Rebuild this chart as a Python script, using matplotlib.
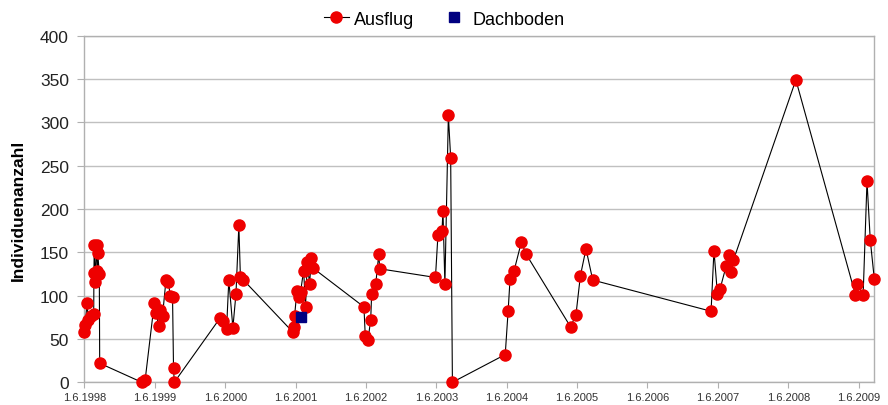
import matplotlib
matplotlib.use("Agg")
import matplotlib.pyplot as plt
import pandas as pd

plt.rcParams["font.family"] = ["Liberation Sans", "DejaVu Sans"]

# Ausflug counts (date, individuals)
ausflug_dates = [
    "1998-06-01", "1998-06-06", "1998-06-15", "1998-06-22", "1998-07-06", "1998-07-20",
    "1998-07-21", "1998-07-23", "1998-07-27", "1998-08-04", "1998-08-08", "1998-08-10",
    "1998-08-18", "1998-08-20",
    "1999-03-27", "1999-04-13", "1999-05-30", "1999-06-08", "1999-06-22", "1999-06-30",
    "1999-07-12", "1999-07-30", "1999-08-11", "1999-08-21", "1999-09-02", "1999-09-07",
    "1999-09-11",
    "2000-05-05", "2000-05-20", "2000-06-08", "2000-06-20", "2000-07-11", "2000-07-27",
    "2000-08-11", "2000-08-19", "2000-09-04",
    "2001-05-18", "2001-05-22", "2001-05-27", "2001-06-08", "2001-06-18", "2001-06-27",
    "2001-07-13", "2001-07-23", "2001-08-01", "2001-08-13", "2001-08-22", "2001-08-30",
    "2002-05-22", "2002-05-29", "2002-06-12", "2002-06-26", "2002-07-01", "2002-07-22",
    "2002-08-07", "2002-08-12",
    "2003-05-28", "2003-06-10", "2003-07-01", "2003-07-06", "2003-07-16", "2003-08-03",
    "2003-08-15", "2003-08-24",
    "2004-05-24", "2004-06-08", "2004-06-18", "2004-07-08", "2004-08-16", "2004-09-09",
    "2005-04-28", "2005-05-26", "2005-06-18", "2005-07-17", "2005-08-21",
    "2007-04-27", "2007-05-12", "2007-05-30", "2007-06-13", "2007-07-14", "2007-07-29",
    "2007-08-09", "2007-08-21",
    "2008-07-10",
    "2009-05-15", "2009-05-24", "2009-06-24", "2009-07-14", "2009-07-31", "2009-08-21",
]
ausflug_values = [
    58, 66, 92, 72, 77, 79,
    126, 158, 116, 159, 128, 149,
    125, 22,
    0, 3, 91, 80, 65, 83,
    77, 118, 116, 100, 98, 17,
    0,
    74, 71, 61, 118, 63, 102,
    181, 122, 118,
    58, 64, 76, 105, 99, 104,
    129, 87, 139, 113, 144, 132,
    87, 53, 49, 72, 102, 113,
    148, 131,
    121, 170, 175, 198, 113, 308,
    259, 0,
    32, 82, 119, 128, 162, 148,
    64, 78, 123, 154, 118,
    82, 152, 102, 108, 134, 147,
    127, 141,
    349,
    101, 114, 101, 232, 164, 119,
]

dachboden_dates = ["2001-07-01"]
dachboden_values = [75]

tick_labels = [f"1.6.{y}" for y in range(1998, 2010)]

a_dates = pd.to_datetime(ausflug_dates)
d_dates = pd.to_datetime(dachboden_dates)
tick_pos = pd.to_datetime([f"{y}-06-01" for y in range(1998, 2010)])

fig = plt.figure(figsize=(8.88, 4.06), dpi=100)
ax = fig.add_axes([0.0949, 0.0559, 0.8897, 0.8537])

ax.plot(a_dates, ausflug_values, color="black", linewidth=0.8,
        marker="o", markersize=8, markerfacecolor="#ee0000",
        markeredgecolor="#ee0000", label="Ausflug", zorder=3, clip_on=False)
ax.plot(d_dates, dachboden_values, color="#000080", linewidth=0.8,
        marker="s", markersize=7, linestyle="none", label="Dachboden", zorder=4)

ax.set_ylim(0, 400)
ax.set_yticks(range(0, 401, 50))
ax.set_xlim(a_dates[0], a_dates[-1])
ax.set_xticks(tick_pos)
ax.set_xticklabels(tick_labels)

ax.grid(axis="y", color="#c0c0c0", linewidth=1)
ax.set_axisbelow(True)
for s in ax.spines.values():
    s.set_color("#b0b0b0")
    s.set_linewidth(1)

ax.tick_params(axis="y", labelsize=12.5, colors="#b0b0b0", labelcolor="#222222",
               length=5, pad=6)
ax.tick_params(axis="x", labelsize=8, colors="#b0b0b0", labelcolor="#333333",
               length=4, pad=3)

ax.set_ylabel("Individuenanzahl", fontsize=12.5, fontweight="bold", labelpad=10)

leg = fig.legend(handles=ax.get_lines(), labels=["Ausflug", "Dachboden"],
                 loc="center", bbox_to_anchor=(0.5, 0.95), ncol=2, frameon=False,
                 fontsize=13, handlelength=1.4, columnspacing=1.5, handletextpad=0.3)

fig.savefig("out.png", dpi=100)
